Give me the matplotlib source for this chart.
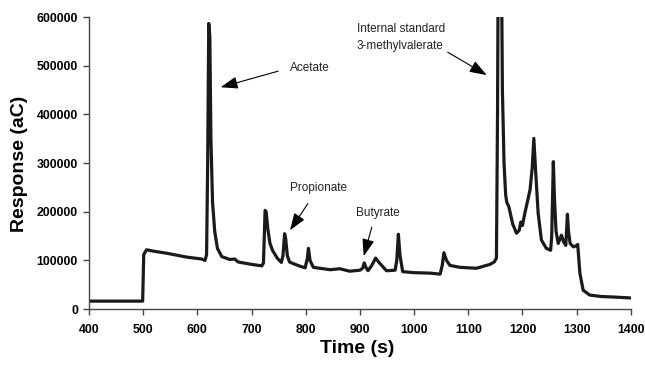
import matplotlib
matplotlib.use('Agg')
import matplotlib.pyplot as plt

plt.rcParams['font.family'] = ['Liberation Sans', 'DejaVu Sans']

# chromatogram trace (time in s, response in aC)
time_s = [400, 450, 499, 501, 506, 520, 543, 580, 608, 614, 617, 619, 621, 623,
          625, 628, 632, 637, 645, 660, 669, 675, 700, 719, 722, 725, 727, 730,
          734, 739, 748, 755, 758, 761, 763, 766, 770, 776, 790, 799, 803, 805,
          808, 814, 826, 845, 863, 881, 900, 905, 908, 911, 915, 922, 929, 936,
          949, 965, 968, 971, 974, 979, 1000, 1030, 1048, 1052, 1055, 1060,
          1066, 1084, 1115, 1140, 1148, 1152, 1154, 1156, 1160, 1163, 1166,
          1169, 1171, 1175, 1182, 1189, 1194, 1197, 1200, 1204, 1207, 1214,
          1218, 1221, 1224, 1229, 1235, 1244, 1252, 1254, 1257, 1259, 1262,
          1266, 1272, 1276, 1280, 1283, 1285, 1288, 1294, 1299, 1302, 1306,
          1312, 1324, 1345, 1367, 1400]
response = [16500, 16500, 16500, 112000, 122000, 119000, 115000, 107000, 103000,
            100000, 112000, 300000, 587000, 560000, 350000, 220000, 160000,
            125000, 108000, 102000, 103000, 97000, 92000, 89000, 95000, 203000,
            200000, 165000, 135000, 120000, 104000, 96000, 110000, 155000,
            145000, 110000, 97000, 94000, 88000, 85000, 105000, 125000, 100000,
            86000, 84000, 81000, 83000, 78000, 80000, 84000, 95000, 86000,
            79000, 90000, 105000, 95000, 79000, 80000, 100000, 154000, 110000,
            77000, 75000, 74000, 72000, 90000, 116000, 100000, 90000, 86000,
            84000, 92000, 97000, 105000, 400000, 900000, 900000, 450000,
            300000, 235000, 220000, 210000, 175000, 156000, 162000, 179000,
            172000, 195000, 210000, 245000, 290000, 351000, 290000, 197000,
            142000, 125000, 121000, 150000, 303000, 230000, 160000, 135000,
            152000, 138000, 131000, 195000, 160000, 135000, 128000, 130000,
            133000, 74000, 39000, 29000, 26000, 25000, 23000]

x_ticks = [400, 500, 600, 700, 800, 900, 1000, 1100, 1200, 1300, 1400]
y_ticks = [0, 100000, 200000, 300000, 400000, 500000, 600000]

# peak labels: text, text anchor (time, response), arrow tail, arrow tip
labels = ['Acetate', 'Propionate', 'Butyrate', 'Internal standard', '3-methylvalerate']
label_pos = [(771, 495000), (771, 249000), (893, 197000), (894, 575000), (894, 540000)]
arrows = [((749, 489000), (643, 456000)),
          ((804, 217000), (771, 162000)),
          ((922, 168500), (907, 109000)),
          ((1062, 528000), (1134, 481000))]

fig = plt.figure(figsize=(6.45, 3.65), dpi=100)
ax = fig.add_axes([0.138, 0.153, 0.840, 0.800])

ax.plot(time_s, response, color='#1a1a1a', lw=2.3, solid_joinstyle='round')

ax.set_xlim(400, 1400)
ax.set_ylim(0, 600000)
ax.set_xticks(x_ticks)
ax.set_yticks(y_ticks)
ax.set_xticklabels([str(v) for v in x_ticks], fontweight='bold', fontsize=8.8)
ax.set_yticklabels([str(v) for v in y_ticks], fontweight='bold', fontsize=8.8)
ax.tick_params(axis='x', length=4, width=1, color='#444444', pad=7)
ax.tick_params(axis='y', length=4, width=1, color='#444444', pad=4)

for side in ['top', 'right']:
    ax.spines[side].set_visible(False)
for side in ['left', 'bottom']:
    ax.spines[side].set_color('#444444')
    ax.spines[side].set_linewidth(1)

ax.set_xlabel('Time (s)', fontsize=14, fontweight='bold')
ax.set_ylabel('Response (aC)', fontsize=14, fontweight='bold')
ax.xaxis.set_label_coords(0.495, -0.105)
ax.yaxis.set_label_coords(-0.113, 0.497)

for txt, (tx, ty) in zip(labels, label_pos):
    ax.text(tx, ty, txt, fontsize=8.5, ha='left', va='center', color='#222222')

for tail, tip in arrows:
    ax.annotate('', xy=tip, xytext=tail,
                arrowprops=dict(arrowstyle='-|>,head_length=0.7,head_width=0.25',
                                color='black', lw=0.8, mutation_scale=15,
                                shrinkA=0, shrinkB=0))

fig.savefig('out.png', dpi=100)
